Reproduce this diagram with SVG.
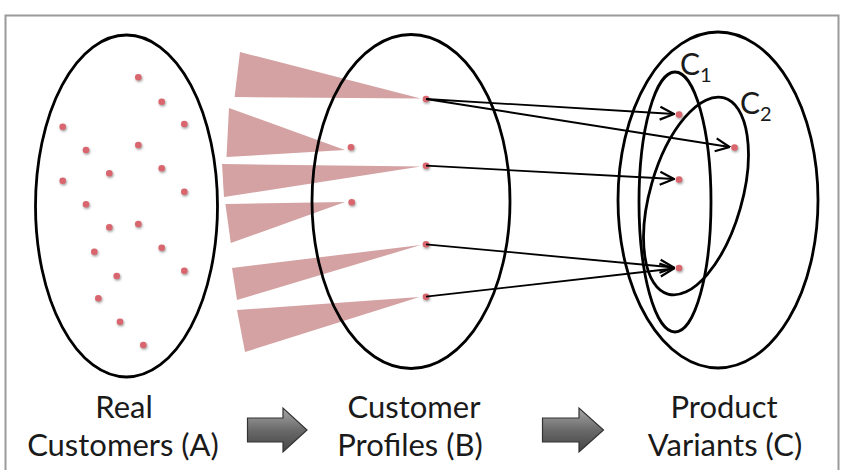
<svg xmlns="http://www.w3.org/2000/svg" width="844" height="470" viewBox="0 0 844 470">
<defs>
<style>
.set{fill:none;stroke:#000;stroke-width:2.8}
.dot{fill:#d9666e;filter:url(#sh)}
.wedge{fill:#d4a2a2;filter:url(#soft)}
.lbl{font-family:Lato,"Open Sans","Liberation Sans",sans-serif;font-size:31px;fill:#1a1a1a;text-anchor:middle}
.sub{font-family:Lato,"Open Sans","Liberation Sans",sans-serif;fill:#1a1a1a}
.conn{fill:none;stroke:#000;stroke-width:1.8;marker-end:url(#open)}
.big{fill:url(#gg);stroke:#333;stroke-width:1.2}
</style>
<filter id="sh" x="-1" y="-1" width="3" height="3">
<feDropShadow dx="0.8" dy="1.4" stdDeviation="0.8" flood-color="#555" flood-opacity="0.6"/>
</filter>
<filter id="soft" x="-0.05" y="-0.1" width="1.1" height="1.2">
<feGaussianBlur stdDeviation="0.6"/>
</filter>
<marker id="open" viewBox="0 0 16 16" refX="15" refY="8" markerWidth="16" markerHeight="16" markerUnits="userSpaceOnUse" orient="auto">
<path d="M1,1.5 L15,8 L1,14.5" fill="none" stroke="#000" stroke-width="2.2"/>
</marker>
<linearGradient id="gg" x1="0" y1="0" x2="0" y2="1">
<stop offset="0" stop-color="#a8a8a8"/>
<stop offset="0.5" stop-color="#6a6a6a"/>
<stop offset="1" stop-color="#444"/>
</linearGradient>
</defs>
<rect x="0" y="0" width="844" height="470" fill="#fff"/>
<rect x="5.5" y="15.5" width="833" height="470" fill="#fff" stroke="#9a9a9a" stroke-width="2"/>

<g id="wedges">
<polygon class="wedge" points="240,52 234.6,97 420.7,98.5"/>
<polygon class="wedge" points="229,108 226.5,157 345,150"/>
<polygon class="wedge" points="222,164 224,197 420.7,166.5"/>
<polygon class="wedge" points="225.4,204 230.8,243 345,202"/>
<polygon class="wedge" points="232,268 237,300 420.7,245"/>
<polygon class="wedge" points="237,310 245,352 419.5,297"/>
</g>

<g id="set-A">
<ellipse class="set" cx="126.5" cy="206" rx="91" ry="171"/>
<g id="customers">
<circle class="dot" cx="138.3" cy="77.3" r="3.3"/>
<circle class="dot" cx="161.7" cy="101.7" r="3.3"/>
<circle class="dot" cx="62.7" cy="126.7" r="3.3"/>
<circle class="dot" cx="184.3" cy="124" r="3.3"/>
<circle class="dot" cx="86" cy="150" r="3.3"/>
<circle class="dot" cx="138.3" cy="145" r="3.3"/>
<circle class="dot" cx="109.3" cy="173.3" r="3.3"/>
<circle class="dot" cx="161.7" cy="168.3" r="3.3"/>
<circle class="dot" cx="62.7" cy="180.7" r="3.3"/>
<circle class="dot" cx="184.3" cy="191.7" r="3.3"/>
<circle class="dot" cx="86" cy="204.3" r="3.3"/>
<circle class="dot" cx="109.3" cy="227.3" r="3.3"/>
<circle class="dot" cx="138.3" cy="224" r="3.3"/>
<circle class="dot" cx="94.3" cy="251.7" r="3.3"/>
<circle class="dot" cx="161.7" cy="247.7" r="3.3"/>
<circle class="dot" cx="184.3" cy="270.7" r="3.3"/>
<circle class="dot" cx="116.7" cy="276" r="3.3"/>
<circle class="dot" cx="98.3" cy="298.3" r="3.3"/>
<circle class="dot" cx="120" cy="321.7" r="3.3"/>
<circle class="dot" cx="143.3" cy="345" r="3.3"/>
</g>
<text class="lbl" x="124" y="418">Real</text>
<text class="lbl" x="123" y="456">Customers (A)</text>
</g>

<g id="set-B">
<ellipse class="set" cx="411" cy="201.5" rx="99" ry="167"/>
<g id="profiles">
<circle class="dot" cx="426" cy="99" r="3.3"/>
<circle class="dot" cx="351" cy="147.3" r="3.3"/>
<circle class="dot" cx="426" cy="165.7" r="3.3"/>
<circle class="dot" cx="351.7" cy="202.3" r="3.3"/>
<circle class="dot" cx="426" cy="244.3" r="3.3"/>
<circle class="dot" cx="426" cy="296.7" r="3.3"/>
</g>
<text class="lbl" x="414" y="418">Customer</text>
<text class="lbl" x="410" y="456">Profiles (B)</text>
</g>

<g id="set-C">
<ellipse class="set" cx="718" cy="200" rx="100" ry="168"/>
<g id="C1">
<ellipse class="set" cx="675" cy="202" rx="36" ry="130"/>
<text class="sub" x="680" y="75" font-size="30">C<tspan font-size="20" dy="7">1</tspan></text>
</g>
<g id="C2">
<ellipse class="set" cx="696" cy="196" rx="46" ry="102" transform="rotate(16 696 196)"/>
<text class="sub" x="740" y="114" font-size="30">C<tspan font-size="20" dy="7">2</tspan></text>
</g>
<g id="variants">
<circle class="dot" cx="679" cy="114.5" r="3.3"/>
<circle class="dot" cx="734.5" cy="147.5" r="3.3"/>
<circle class="dot" cx="679" cy="179.5" r="3.3"/>
<circle class="dot" cx="679" cy="268" r="3.3"/>
</g>
<text class="lbl" x="724" y="418">Product</text>
<text class="lbl" x="725" y="456">Variants (C)</text>
</g>

<g id="connectors">
<line class="conn" x1="426" y1="99" x2="674" y2="114"/>
<line class="conn" x1="426" y1="99" x2="729.5" y2="147"/>
<line class="conn" x1="426" y1="165.7" x2="674" y2="179"/>
<line class="conn" x1="426" y1="244.3" x2="674" y2="267.5"/>
<line class="conn" x1="426" y1="296.7" x2="674" y2="268.5"/>
</g>

<g id="flow-arrows">
<path class="big" d="M247.5,418 L283,418 L283,408 L307,430 L283,452 L283,442 L247.5,442 Z"/>
<path class="big" d="M542.5,418 L579,418 L579,408 L603.5,430 L579,452 L579,442 L542.5,442 Z"/>
</g>
</svg>
